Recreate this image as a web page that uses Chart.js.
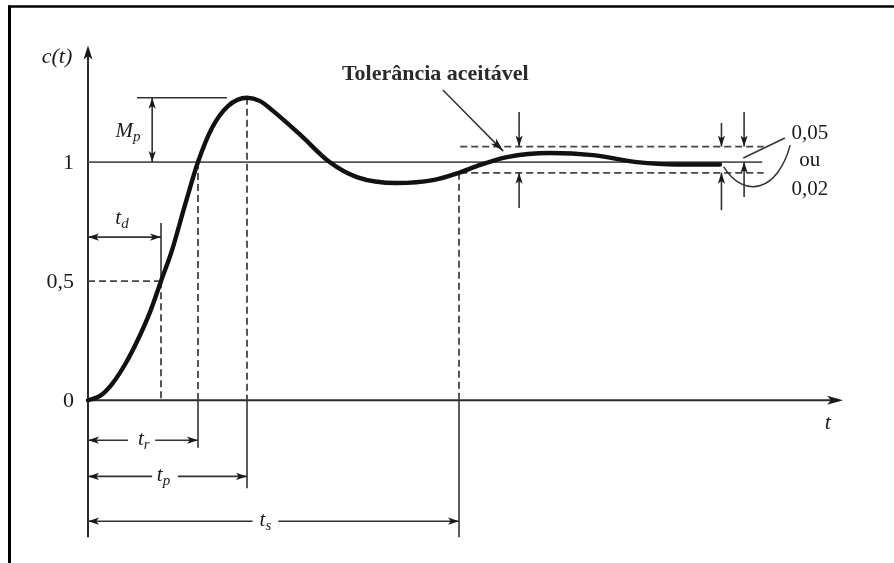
<!DOCTYPE html>
<html>
<head>
<meta charset="utf-8">
<script src="https://cdn.jsdelivr.net/npm/chart.js@4.4.1/dist/chart.umd.min.js"></script>
<style>
  html, body { margin: 0; padding: 0; background: #ffffff; overflow: hidden; }
  #wrap { width: 894px; height: 563px; }
</style>
</head>
<body>
<div id="wrap"><canvas id="c" width="894" height="563"></canvas></div>
<script>
// ---- data (time in arbitrary units, response c(t)) ----
const timeValues     = [0, 0.159, 0.318, 0.49, 0.662, 0.821, 0.967, 1.113, 1.285, 1.457, 1.642, 1.854, 2.106, 2.28, 2.45, 2.81, 3.2, 3.56, 4.09, 4.57, 4.914, 5.15, 5.55, 6.12, 6.69, 7.27, 7.8, 8.37];
const responseValues = [0, 0.018, 0.068, 0.15, 0.255, 0.37, 0.5, 0.63, 0.82, 1.0, 1.143, 1.235, 1.27, 1.256, 1.215, 1.115, 1.0, 0.937, 0.912, 0.924, 0.955, 0.983, 1.021, 1.038, 1.029, 1.0, 0.99, 0.99];
const yTickValues = [0, 0.5, 1];
const yTickLabels = ['0', '0,5', '1'];
const markerNames = ['t', 't', 't', 't'];
const markerSubs  = ['d', 'r', 'p', 's'];
const markerTimes = [0.967, 1.457, 2.106, 4.914]; // t_d, t_r, t_p, t_s
const peakValue = 1.27;           // 1 + M_p
const finalValue = 1;
const toleranceUpper = 1.065;
const toleranceLower = 0.955;
const toleranceTitle = 'Tolerância aceitável';
const toleranceLabels = ['0,05', 'ou', '0,02'];
const axisLabels = ['c(t)', 't'];

const SERIF = '"Liberation Serif", "DejaVu Serif", serif';

function arrowHead(ctx, x1, y1, x2, y2, len, w) {
  len = len || 11; w = w || 3.6;
  const a = Math.atan2(y2 - y1, x2 - x1);
  ctx.save();
  ctx.translate(x2, y2);
  ctx.rotate(a);
  ctx.beginPath();
  ctx.moveTo(0, 0);
  ctx.lineTo(-len, -w);
  ctx.lineTo(-len * 0.75, 0);
  ctx.lineTo(-len, w);
  ctx.closePath();
  ctx.fill();
  ctx.restore();
}
function line(ctx, x1, y1, x2, y2) {
  ctx.beginPath(); ctx.moveTo(x1, y1); ctx.lineTo(x2, y2); ctx.stroke();
}
function subText(ctx, main, sub, cx, cy, size) {
  ctx.font = 'italic ' + size + 'px ' + SERIF;
  const w1 = ctx.measureText(main).width;
  ctx.font = 'italic ' + Math.round(size * 0.72) + 'px ' + SERIF;
  const w2 = ctx.measureText(sub).width;
  const x0 = cx - (w1 + w2) / 2;
  ctx.textAlign = 'left'; ctx.textBaseline = 'middle';
  ctx.font = 'italic ' + size + 'px ' + SERIF;
  ctx.fillText(main, x0, cy);
  ctx.font = 'italic ' + Math.round(size * 0.72) + 'px ' + SERIF;
  ctx.fillText(sub, x0 + w1, cy + size * 0.28);
}

const diagramPlugin = {
  id: 'diagram',
  beforeDatasetsDraw(chart) {
    const ctx = chart.ctx;
    const xs = chart.scales.x, ys = chart.scales.y;
    const X = v => xs.getPixelForValue(v);
    const Y = v => ys.getPixelForValue(v);
    const [td, tr, tp, ts] = markerTimes;
    ctx.save();
    ctx.fillStyle = '#1a1a1a';

    // frame (scanned page border)
    ctx.strokeStyle = '#000';
    ctx.lineWidth = 2.5;
    line(ctx, 8, 6.5, 894, 6.5);
    ctx.lineWidth = 3;
    line(ctx, 9.5, 5.5, 9.5, 563);

    // axes
    ctx.strokeStyle = '#2a2a2a';
    ctx.lineWidth = 2;
    line(ctx, X(0), Y(-0.575), X(0), Y(1.45));
    arrowHead(ctx, X(0), Y(0), X(0), Y(1.49), 14, 4.5);
    line(ctx, X(0), Y(0), X(9.95), Y(0));
    arrowHead(ctx, X(0), Y(0), X(10), Y(0), 16, 4.5);

    // final value line
    ctx.strokeStyle = '#555';
    ctx.lineWidth = 1.7;
    line(ctx, X(0), Y(finalValue), X(8.93), Y(finalValue));

    // dashed lines
    ctx.setLineDash([7, 4]);
    ctx.strokeStyle = '#444';
    ctx.lineWidth = 1.8;
    line(ctx, X(4.93), Y(toleranceUpper), X(8.95), Y(toleranceUpper));
    line(ctx, X(4.93), Y(toleranceLower), X(8.95), Y(toleranceLower));
    line(ctx, X(0), Y(0.5), X(td), Y(0.5));
    line(ctx, X(td), Y(0.5), X(td), Y(0));
    line(ctx, X(tr), Y(1), X(tr), Y(0));
    line(ctx, X(tp), Y(peakValue), X(tp), Y(0));
    line(ctx, X(ts), Y(toleranceLower), X(ts), Y(0));
    ctx.setLineDash([]);

    // solid markers
    ctx.strokeStyle = '#333';
    ctx.lineWidth = 1.6;
    // t_d
    line(ctx, X(td), Y(0.5), X(td), Y(0.744));
    line(ctx, X(0), Y(0.685), X(td), Y(0.685));
    arrowHead(ctx, X(0.5), Y(0.685), X(0), Y(0.685));
    arrowHead(ctx, X(0.5), Y(0.685), X(td), Y(0.685));
    // M_p
    line(ctx, X(0.65), Y(peakValue), X(1.84), Y(peakValue));
    line(ctx, X(0.85), Y(peakValue), X(0.85), Y(finalValue));
    arrowHead(ctx, X(0.85), Y(1.13), X(0.85), Y(peakValue));
    arrowHead(ctx, X(0.85), Y(1.13), X(0.85), Y(finalValue));

    // below axis extension lines
    line(ctx, X(tr), Y(0), X(tr), Y(-0.2));
    line(ctx, X(tp), Y(0), X(tp), Y(-0.37));
    line(ctx, X(ts), Y(0), X(ts), Y(-0.575));

    // dimension arrows with label gaps
    const dims = [
      { t: tr, y: -0.168, g1: 0.53, g2: 0.89, lx: 0.74, sub: markerSubs[1], name: markerNames[1] },
      { t: tp, y: -0.32, g1: 0.85, g2: 1.19, lx: 1.0, sub: markerSubs[2], name: markerNames[2] },
      { t: ts, y: -0.508, g1: 2.18, g2: 2.52, lx: 2.35, sub: markerSubs[3], name: markerNames[3] }
    ];
    dims.forEach(d => {
      line(ctx, X(0), Y(d.y), X(d.g1), Y(d.y));
      line(ctx, X(d.g2), Y(d.y), X(d.t), Y(d.y));
      arrowHead(ctx, X(d.g1), Y(d.y), X(0), Y(d.y));
      arrowHead(ctx, X(d.g2), Y(d.y), X(d.t), Y(d.y));
      subText(ctx, d.name, d.sub, X(d.lx), Y(d.y) - 1, 21);
    });

    // tolerance arrows
    const tolArrows = [
      [5.71, 1.21, toleranceUpper], [5.71, 0.807, toleranceLower],
      [8.39, 1.164, toleranceUpper], [8.39, 0.798, toleranceLower],
      [8.69, 1.21, toleranceUpper], [8.69, 0.853, finalValue]
    ];
    tolArrows.forEach(a => {
      line(ctx, X(a[0]), Y(a[1]), X(a[0]), Y(a[2]));
      arrowHead(ctx, X(a[0]), Y(a[1]), X(a[0]), Y(a[2]), 11, 3.6);
    });

    // pointer from tolerance title
    ctx.lineWidth = 1.5;
    line(ctx, X(4.70), Y(1.303), X(5.50), Y(1.046));
    arrowHead(ctx, X(4.70), Y(1.303), X(5.50), Y(1.046), 14, 3.8);

    // leaders to 0,05 / 0,02
    line(ctx, X(9.23), Y(1.101), X(8.68), Y(1.017));
    ctx.beginPath();
    ctx.moveTo(X(9.30), Y(1.071));
    ctx.bezierCurveTo(X(9.14), Y(0.88), X(8.70), Y(0.84), X(8.42), Y(0.98));
    ctx.stroke();

    // texts
    ctx.fillStyle = '#1a1a1a';
    ctx.textBaseline = 'middle';
    ctx.font = '22px ' + SERIF;
    yTickValues.forEach((v, i) => {
      ctx.textAlign = 'right';
      ctx.fillText(yTickLabels[i], X(0) - 14, Y(v) + 1);
    });
    ctx.textAlign = 'center';
    ctx.font = 'italic 22px ' + SERIF;
    ctx.fillText(axisLabels[0], X(-0.41), Y(1.44));
    ctx.fillText(axisLabels[1], X(9.8), Y(-0.095));

    subText(ctx, markerNames[0], markerSubs[0], X(0.45), Y(0.765), 21);
    subText(ctx, 'M', 'p', X(0.53), Y(1.13), 21);

    ctx.textAlign = 'center';
    ctx.font = 'bold 22px ' + SERIF;
    ctx.fillStyle = '#2a2a2a';
    ctx.fillText(toleranceTitle, X(4.6), Y(1.368));

    ctx.fillStyle = '#1a1a1a';
    ctx.font = '21px ' + SERIF;
    ctx.fillText(toleranceLabels[0], X(9.56), Y(1.12));
    ctx.fillText(toleranceLabels[1], X(9.56), Y(1.005));
    ctx.fillText(toleranceLabels[2], X(9.56), Y(0.885));
    ctx.restore();
  }
};

const points = timeValues.map((t, i) => ({ x: t, y: responseValues[i] }));

new Chart(document.getElementById('c'), {
  type: 'scatter',
  data: {
    datasets: [{
      label: 'c(t)',
      data: points,
      showLine: true,
      borderColor: '#111',
      borderWidth: 4.4,
      borderCapStyle: 'round',
      borderJoinStyle: 'round',
      pointRadius: 0,
      cubicInterpolationMode: 'monotone',
      fill: false
    }]
  },
  options: {
    responsive: false,
    devicePixelRatio: 1,
    animation: false,
    layout: { padding: { left: 88, right: 51, top: 43, bottom: 8 } },
    plugins: { legend: { display: false }, tooltip: { enabled: false } },
    scales: {
      x: { type: 'linear', min: 0, max: 10, display: false },
      y: { type: 'linear', min: -0.65, max: 1.5, display: false }
    },
    clip: false
  },
  plugins: [diagramPlugin]
});
</script>
</body>
</html>
